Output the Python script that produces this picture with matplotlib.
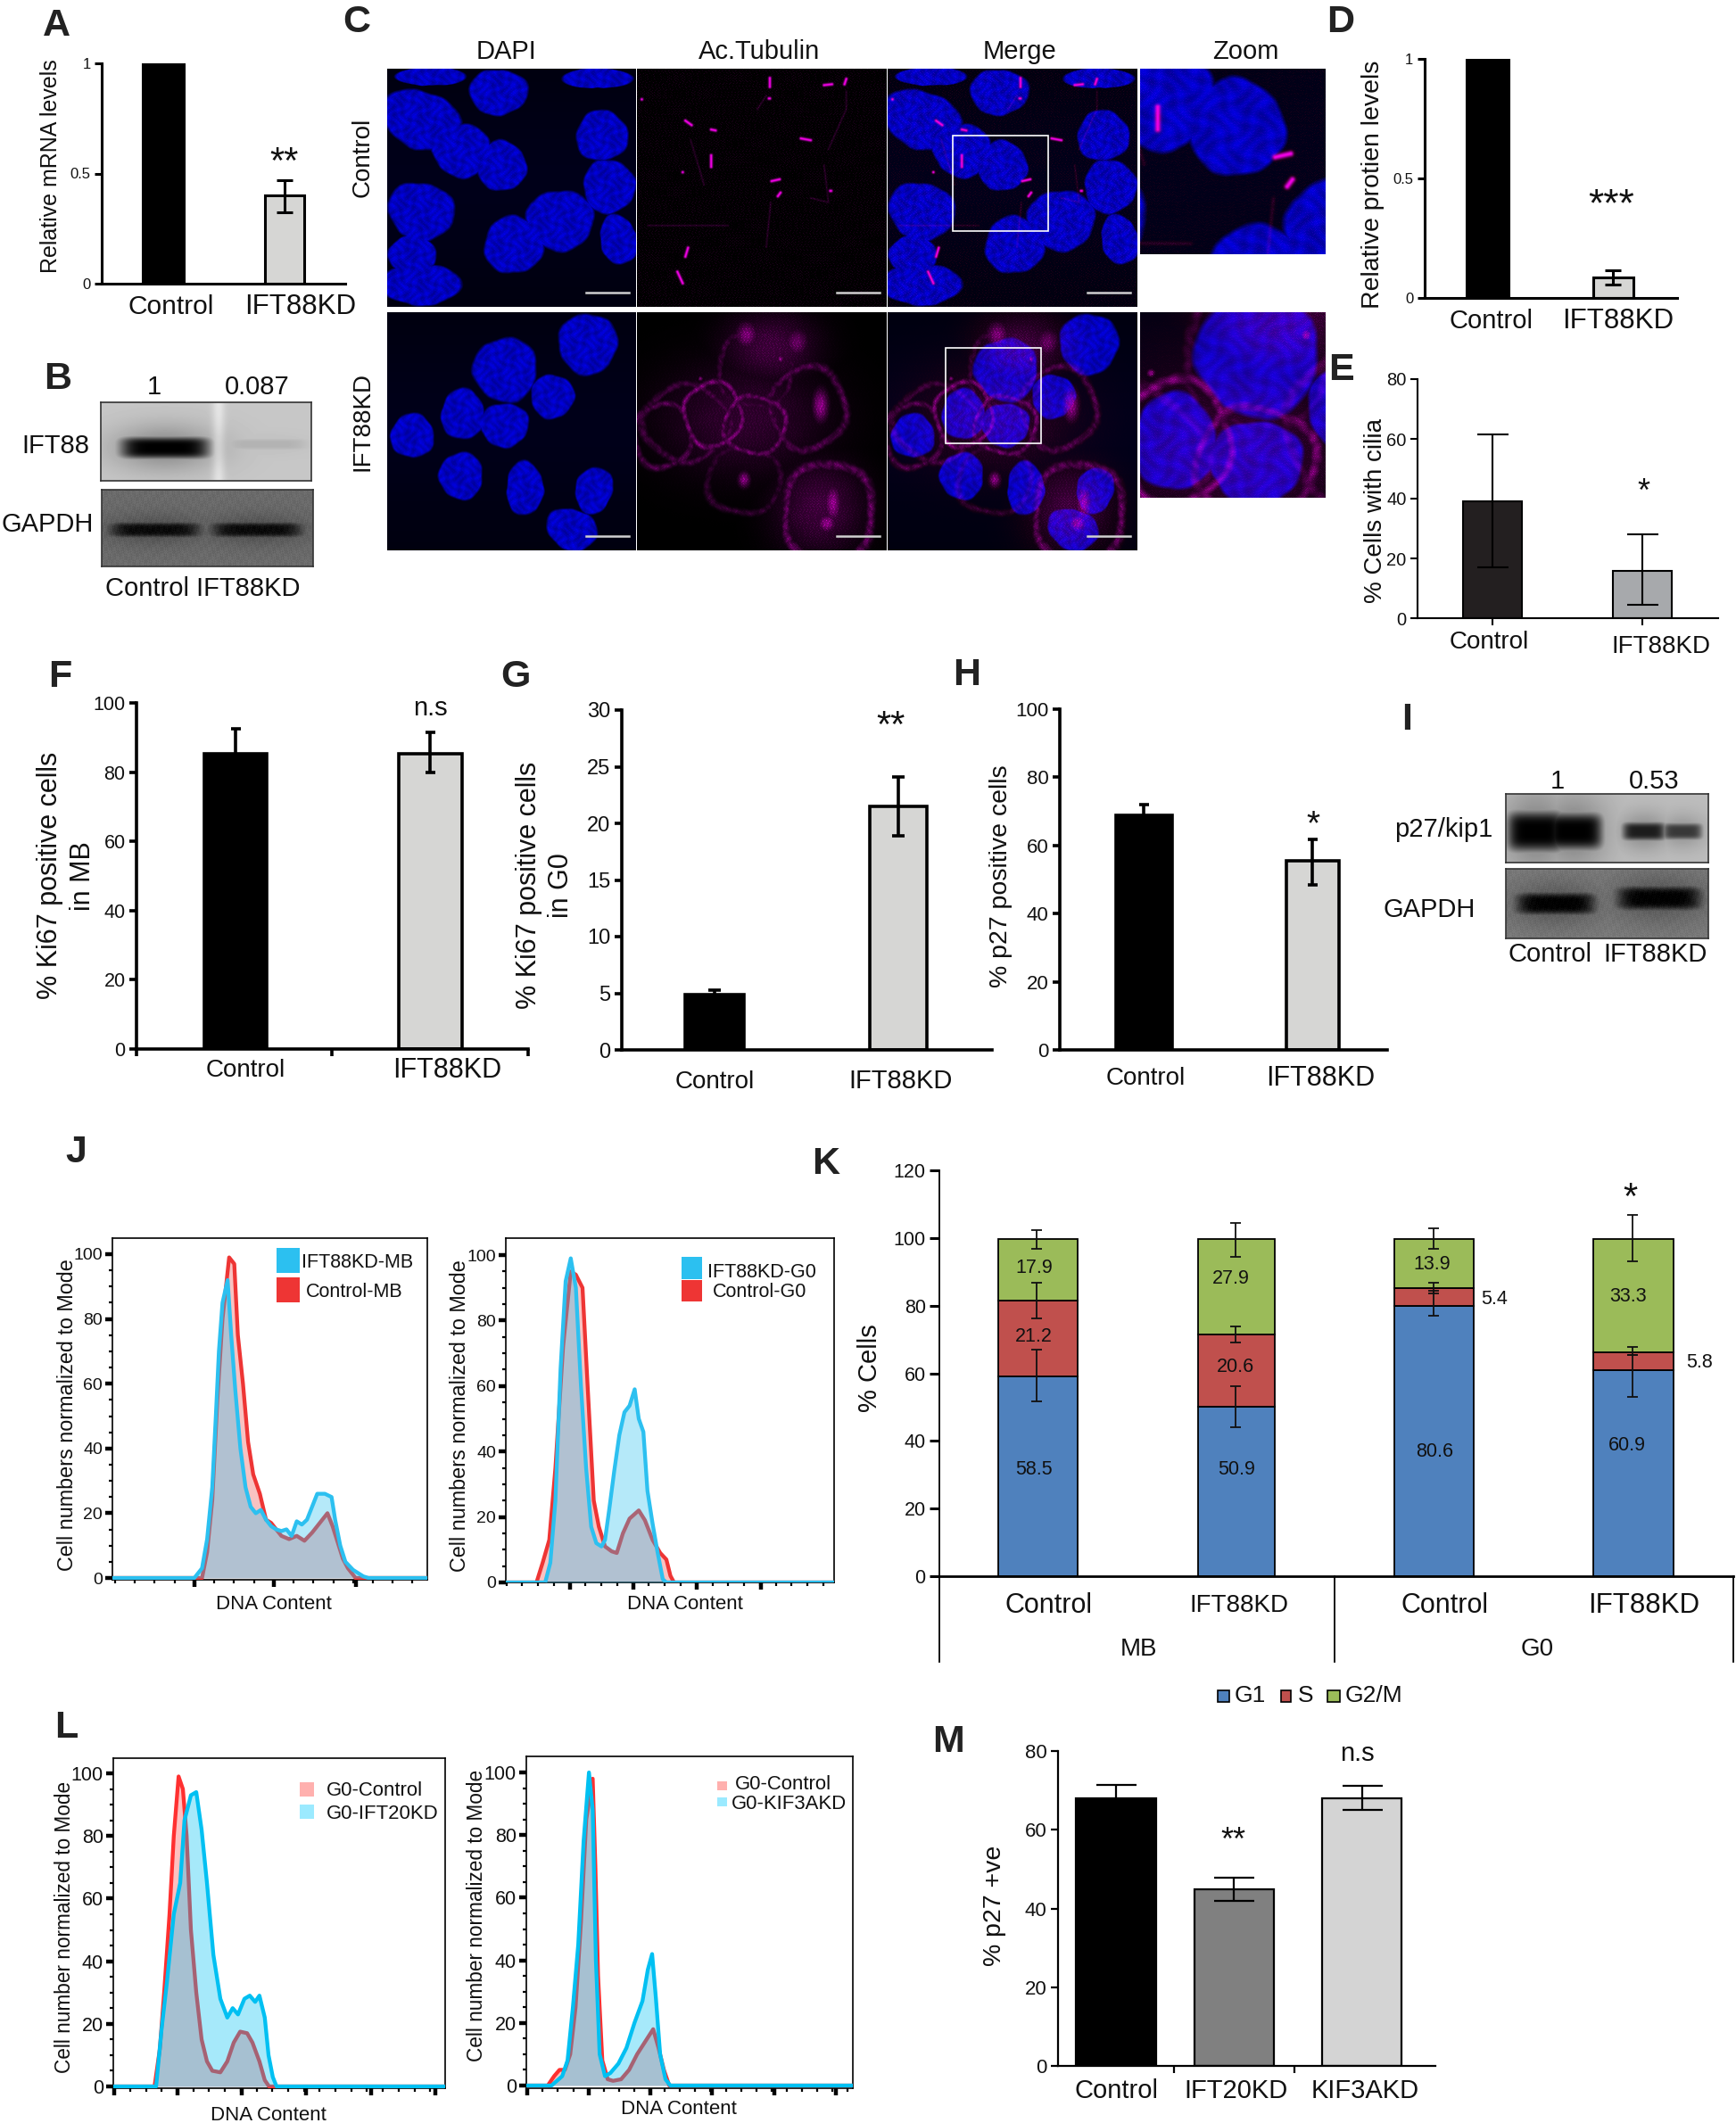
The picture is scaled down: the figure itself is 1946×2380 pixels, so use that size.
import numpy as np
import matplotlib
matplotlib.use("Agg")
import matplotlib.pyplot as plt
from matplotlib.patches import Rectangle

plt.rcParams['font.family'] = ['Liberation Sans', 'DejaVu Sans']

W, H = 1946, 2380
BLACK = '#000000'
LIGHT = '#d6d6d4'

# bar panels
a_vals, a_lo, a_hi = [1.0, 0.40], [1.0, 0.324], [1.0, 0.47]
d_vals, d_lo, d_hi = [1.0, 0.084], [1.0, 0.057], [1.0, 0.115]
e_vals, e_lo, e_hi = [39, 15.9], [17.1, 4.5], [61.4, 28]
f_vals, f_lo, f_hi = [85.4, 85.4], [80, 80], [92.5, 91.6]
g_vals, g_lo, g_hi = [4.9, 21.5], [4.5, 18.9], [5.3, 24.1]
h_vals, h_lo, h_hi = [68.8, 55.4], [65, 48.3], [72, 61.8]
m_vals, m_lo, m_hi = [68, 44.8, 68], [65, 42, 65], [71.3, 47.9, 71.2]
ko_labels = ['Control', 'IFT88KD']
m_labels = ['Control', 'IFT20KD', 'KIF3AKD']

# panel K, stacked
k_g1 = [59.1, 50, 80, 60.9]
k_s = [22.3, 21.4, 5.3, 5.2]
k_g2 = [18.4, 28.4, 14.5, 33.7]
k_g1_lo, k_g1_hi = [51.7, 44.1, 76.9, 53.1], [67, 56.3, 84.4, 65.3]
k_s_lo, k_s_hi = [76.1, 69.2, 83.6, 65.3], [86.9, 73.9, 86.9, 67.8]
k_g2_lo, k_g2_hi = [96.7, 94.4, 96.7, 93], [102.2, 104.4, 102.8, 106.9]
k_text = ['58.5', '21.2', '17.9', '50.9', '20.6', '27.9', '80.6', '13.9', '5.4', '60.9', '33.3', '5.8']
k_categories = ['Control', 'IFT88KD', 'Control', 'IFT88KD']
k_groups = ['MB', 'G0']

# flow histograms, x in arbitrary channel units
j1_blue_x = [310, 325, 335, 345, 352, 358, 365, 375, 382, 390, 400, 410, 420, 430, 440, 450, 460, 470, 480, 490, 500, 510, 520, 530, 540, 550, 565, 578, 585, 595, 605, 620, 640, 650]
j1_blue_y = [0, 3, 12, 28, 50, 70, 85, 92, 75, 58, 40, 28, 22, 20, 21, 18, 16, 15, 14.5, 15, 13, 17.5, 16.5, 18, 22, 26, 26, 25, 18, 10, 5, 2.5, 0.5, 0]
j1_red_x = [325, 335, 345, 355, 365, 378, 388, 395, 405, 415, 425, 438, 450, 460, 470, 480, 495, 510, 525, 540, 550, 570, 580, 590, 600, 610, 625]
j1_red_y = [0, 8, 24, 55, 80, 99, 97, 75, 60, 42, 32, 26, 18, 17, 15, 13, 12, 13, 11.5, 14, 16, 20, 16, 11, 6, 3, 0]
j2_blue_x = [995, 1005, 1015, 1025, 1035, 1045, 1055, 1065, 1075, 1085, 1095, 1105, 1112, 1120, 1130, 1140, 1150, 1160, 1170, 1178, 1187, 1195, 1205, 1215, 1225, 1232]
j2_blue_y = [0, 6, 25, 65, 92, 99, 90, 60, 35, 17, 12, 11, 13, 22, 34, 45, 52, 54, 59, 50, 46, 28, 18, 9, 1, 0]
j2_red_x = [978, 990, 1003, 1015, 1030, 1045, 1055, 1068, 1078, 1090, 1100, 1112, 1125, 1135, 1147, 1160, 1178, 1190, 1205, 1220, 1232, 1240, 1247]
j2_red_y = [0, 6, 13, 35, 72, 95, 94, 90, 60, 25, 17, 11, 9.5, 9, 15, 19.5, 22, 19, 13, 9, 7, 2, 0]
l1_red_x = [222, 232, 240, 250, 258, 267, 275, 282, 290, 300, 310, 320, 330, 345, 358, 370, 382, 395, 405, 418, 428, 436]
l1_red_y = [0, 12, 30, 55, 80, 99, 95, 80, 50, 30, 15, 8, 5, 4.5, 8, 14, 17.5, 17, 14, 8, 2, 0]
l1_blue_x = [225, 235, 245, 258, 270, 278, 290, 300, 310, 320, 332, 345, 358, 368, 378, 390, 400, 410, 418, 428, 435, 443, 450]
l1_blue_y = [0, 18, 33, 55, 65, 85, 93, 94, 82, 65, 42, 28, 22, 25, 23, 28, 29, 27, 29, 22, 10, 3, 0]
l2_red_x = [958, 970, 980, 990, 1000, 1010, 1020, 1030, 1042, 1047, 1052, 1060, 1070, 1080, 1095, 1110, 1125, 1140, 1155, 1165, 1175, 1185]
l2_red_y = [0, 3, 5, 5, 10, 25, 52, 85, 98, 70, 35, 8, 2, 1.5, 2, 5, 10, 14, 18, 12, 5, 0]
l2_blue_x = [965, 985, 995, 1005, 1015, 1025, 1035, 1042, 1048, 1055, 1065, 1075, 1090, 1105, 1120, 1135, 1145, 1153, 1160, 1168, 1178, 1187]
l2_blue_y = [0, 3, 8, 25, 45, 78, 100, 88, 40, 10, 3, 4, 7, 12, 20, 27, 37, 42, 28, 10, 2, 0]

# micrographs: nuclei (cx, cy, rx, ry, angle), inside a 280x267 field
ctrl_nuclei = [(125, 26, 35, 27, 0), (38, 57, 48, 34, 20), (83, 91, 35, 32, 20), (129, 109, 29, 30, -10),
               (242, 75, 31, 30, -10), (250, 132, 31, 32, 0), (261, 192, 22, 30, -15), (38, 160, 40, 34, 15),
               (28, 208, 29, 22, 0), (38, 243, 48, 24, 0), (195, 170, 40, 36, 0), (142, 198, 35, 34, 0),
               (236, 10, 42, 12, 0), (48, 8, 42, 11, 0)]
kd_nuclei = [(226, 36, 35, 36, 0), (133, 65, 38, 38, 0), (186, 95, 26, 26, -30), (85, 115, 26, 30, 0),
             (132, 127, 29, 26, 0), (28, 139, 26, 26, 0), (83, 184, 26, 28, 0), (155, 198, 22, 32, 0),
             (233, 200, 22, 28, 15), (208, 244, 31, 24, 20)]
ctrl_cilia = [(149, 10, 149, 20), (210, 18, 219, 17), (235, 11, 233, 17), (148, 33, 149, 33), (54, 58, 61, 63),
              (83, 68, 88, 69), (184, 78, 195, 80), (83, 97, 83, 110), (151, 126, 160, 124), (158, 143, 161, 139),
              (217, 137, 218, 137), (57, 201, 54, 211), (45, 228, 51, 241), (51, 116, 51, 116), (5, 34, 5, 34)]
ctrl_fibres = [(12, 176, 102, 176), (210, 108, 215, 150), (215, 150, 195, 145), (145, 30, 135, 45),
               (235, 25, 235, 45), (235, 45, 215, 90), (60, 80, 75, 130), (150, 150, 145, 200)]
kd_rings = [(85, 115, 32, 36, 0.8), (132, 127, 35, 32, 0.8), (28, 139, 32, 36, 0.6), (133, 65, 42, 42, 0.4),
            (192, 108, 42, 46, 0.55), (215, 225, 50, 56, 0.65), (120, 190, 42, 36, 0.35), (55, 125, 48, 42, 0.45)]
kd_blobs = [(150, 40, 50, 38, 0.42), (120, 120, 90, 60, 0.32), (205, 220, 48, 50, 0.42), (123, 26, 11, 13, 0.85),
            (179, 34, 12, 14, 0.7), (206, 105, 8, 16, 1.0), (220, 215, 8, 18, 1.0), (213, 237, 9, 9, 1.0),
            (120, 188, 6, 8, 0.9), (161, 53, 3, 3, 1.0), (71, 75, 2, 2, 1.0)]

# western blots, bands (cx, cy, half width, half height, strength)
b_top_bands = [(72, 51, 50, 12, 1.0), (185, 47, 45, 6, 0.1)]
b_low_bands = [(60, 45, 50, 8, 0.9), (174, 45, 50, 8, 0.9)]
i_top_bands = [(34, 42, 32, 22, 1.0), (76, 42, 32, 20, 1.0), (155, 42, 24, 10, 0.85), (198, 42, 22, 9, 0.7)]
i_low_bands = [(56, 39, 44, 12, 1.0), (172, 33, 47, 13, 1.0)]

fig = plt.figure(figsize=(W / 100, H / 100), dpi=100, facecolor='white')


def label(x, y, s, size, rot=0, ha='center', weight='normal', color='#111111'):
    off = 0.36 * size / 0.72
    tx, ty = (x + off, y) if rot == 90 else (x, y + off)
    fig.text(tx / W, 1 - ty / H, s, fontsize=size, rotation=rot, ha=ha, va='baseline',
             rotation_mode='anchor', fontweight=weight, color=color)


def star(x, y, n, size):
    label(x, y + (0.58 - 0.36) * size / 0.72, '*' * n, size)


def letter(x, y, s):
    label(x, y, s, 31, weight='bold', color='#222222')


def box_axes(left, right, top, bot):
    return fig.add_axes([left / W, 1 - bot / H, (right - left) / W, (bot - top) / H])


def swatch(x0, y0, x1, y1, color, ec='none'):
    fig.add_artist(Rectangle((x0 / W, 1 - y1 / H), (x1 - x0) / W, (y1 - y0) / H, facecolor=color, edgecolor=ec,
                             linewidth=1.2, transform=fig.transFigure))


def bar_panel(box, ymax, centers, widths, vals, lo, hi, colors, ticks, ticklabels, tick_fs, lw=2.2,
              cap=20, edge='k', bottom_ticks=()):
    left, right, top, bot = box
    ax = box_axes(left, right, top, bot)
    ax.set_xlim(left, right)
    ax.set_ylim(0, ymax)
    ax.patch.set_alpha(0)
    for c, w, v, col, l, h in zip(centers, widths, vals, colors, lo, hi):
        ec = 'k' if col != BLACK else BLACK
        ax.bar(c, v, width=w, color=col, edgecolor=ec, linewidth=lw, zorder=2)
        if l < v or h > v:
            ax.errorbar(c, v, yerr=[[v - l], [h - v]], color='k', elinewidth=lw, capsize=cap * 0.36,
                        capthick=lw, zorder=3)
    for s in ['top', 'right']:
        ax.spines[s].set_visible(False)
    for s in ['left', 'bottom']:
        ax.spines[s].set_linewidth(lw)
    ax.set_yticks(ticks)
    ax.set_yticklabels(ticklabels, fontsize=tick_fs, color='#111111')
    ax.tick_params(axis='y', length=6, width=lw, pad=3)
    ax.set_xticks(list(bottom_ticks))
    ax.set_xticklabels([])
    ax.tick_params(axis='x', length=6, width=lw)
    return ax


def blot(box, bg, bands, texture=0.0, strip=None):
    left, right, top, bot = box
    xs, ys = np.meshgrid(np.arange(right - left) + 0.5, np.arange(bot - top) + 0.5)
    dark = np.zeros_like(xs, dtype=float)
    for cx, cy, wx, wy, s in bands:
        core = np.exp(-((xs - cx) / wx) ** 6 - ((ys - cy) / wy) ** 4)
        halo = np.exp(-((xs - cx) / (wx * 1.2)) ** 2 - ((ys - cy) / (wy * 2.2)) ** 2)
        dark = np.maximum(dark, s * np.maximum(core, 0.3 * halo))
    img = bg * (1 - dark)
    if texture:
        img = img + texture * np.sin(xs * 1.7 + 2 * np.sin(ys * 0.9)) * np.sin(ys * 1.3 + 2 * np.sin(xs * 0.7))
    if strip is not None:
        img = img + 0.12 * np.exp(-((xs - strip) / 7) ** 2)
    ax = box_axes(left, right, top, bot)
    ax.imshow(np.clip(img, 0, 1), cmap='gray', vmin=0, vmax=1, aspect='auto', interpolation='bilinear')
    ax.set_xticks([])
    ax.set_yticks([])
    for s in ax.spines.values():
        s.set_linewidth(1.2)
        s.set_color('#333333')


def mottle(xs, ys):
    return 0.5 + 0.5 * np.sin(xs * 0.42 + 1.6 * np.sin(ys * 0.27)) * np.sin(ys * 0.37 + 1.4 * np.sin(xs * 0.23))


def speckle(xs, ys):
    return (np.sin(xs * 2.3 + 3 * np.sin(ys * 1.1)) * np.sin(ys * 2.1 + 3 * np.sin(xs * 0.9))) ** 4


def segment_glow(xs, ys, seg, sigma):
    x0, y0, x1, y1 = seg
    dx, dy = x1 - x0, y1 - y0
    t = np.clip(((xs - x0) * dx + (ys - y0) * dy) / max(dx * dx + dy * dy, 1e-6), 0, 1)
    d2 = (xs - x0 - t * dx) ** 2 + (ys - y0 - t * dy) ** 2
    return np.exp(-d2 / (2 * sigma ** 2))


def cell_image(nuclei, cilia, fibres, rings, blobs, xr, yr, nx, ny, blue_on=True, mag_on=True, haze=0.0):
    xs, ys = np.meshgrid(np.linspace(xr[0], xr[1], nx), np.linspace(yr[0], yr[1], ny))
    tex = mottle(xs, ys)
    spk = speckle(xs, ys)
    blue = 0.05 + 0.05 * np.exp(-((ys - 130) / 110) ** 2)
    blue = np.full(xs.shape, 1.0) * blue
    for cx, cy, rx, ry, ang in nuclei:
        th = np.radians(ang)
        u = (xs - cx) * np.cos(th) + (ys - cy) * np.sin(th)
        v = -(xs - cx) * np.sin(th) + (ys - cy) * np.cos(th)
        d = np.sqrt((u / rx) ** 2 + (v / ry) ** 2)
        phi = np.arctan2(v, u)
        d = d * (1 + 0.04 * np.sin(3 * phi + cx) + 0.02 * np.sin(7 * phi + cy))
        mask = np.clip((1.0 - d) / 0.1, 0, 1)
        blue = np.maximum(blue, mask * (0.6 + 0.26 * tex + 0.1 * spk))
    mag = haze * spk
    for seg in cilia:
        mag = np.maximum(mag, 0.95 * segment_glow(xs, ys, seg, 1.2))
    for seg in fibres:
        mag = np.maximum(mag, 0.3 * segment_glow(xs, ys, seg, 0.9) * (0.4 + 0.6 * spk))
    for cx, cy, rx, ry, s in rings:
        phi = np.arctan2(ys - cy, xs - cx)
        d = np.sqrt(((xs - cx) / rx) ** 2 + ((ys - cy) / ry) ** 2) * (1 + 0.05 * np.sin(4 * phi + cx))
        mag = np.maximum(mag, s * np.exp(-((d - 1) / 0.1) ** 2) * (0.45 + 0.55 * tex) * (0.6 + 0.4 * spk))
    for cx, cy, rx, ry, s in blobs:
        mag = np.maximum(mag, s * np.exp(-((xs - cx) / rx) ** 2 - ((ys - cy) / ry) ** 2) * (0.5 + 0.5 * spk))
    r = mag if mag_on else np.zeros_like(mag)
    b = np.zeros_like(mag)
    if blue_on:
        b = np.maximum(b, blue)
    if mag_on:
        b = np.maximum(b, mag * 0.95)
    return np.clip(np.dstack([r, np.zeros_like(r), b]), 0, 1)


def micro_panel(box, img, bar_y=None):
    left, right, top, bot = box
    ax = box_axes(left, right, top, bot)
    ax.imshow(img, aspect='auto', extent=(left, right, bot, top), interpolation='bilinear')
    ax.set_xticks([])
    ax.set_yticks([])
    for s in ax.spines.values():
        s.set_visible(False)
    if bar_y is not None:
        ax.plot([right - 56, right - 2 - 6], [bar_y, bar_y], color='#d0d0d0', lw=1.8)
        ax.set_xlim(left, right)
        ax.set_ylim(bot, top)
    return ax


def hist_panel(box, xlim, y0, y100, major, red, blue, red_c, blue_c, tick_fs=15, minor_div=4):
    left, right, top, bot = box
    ax = box_axes(left, right, top, bot)
    unit = (y0 - y100) / 100
    ax.set_xlim(*xlim)
    ax.set_ylim(-(bot - y0) / unit, (y0 - top) / unit)
    for (xv, yv), col, alpha in [(red, red_c, 0.30), (blue, blue_c, 0.35)]:
        xa = np.r_[xlim[0], xv, xlim[1]]
        ya = np.r_[0, yv, 0]
        ax.fill_between(xa, 0, ya, color=col, alpha=alpha, lw=0, zorder=2 if col == red_c else 4)
        ax.plot(xa, ya, color=col, lw=3.1, solid_joinstyle='round', zorder=3 if col == red_c else 5)
    step = major[1] - major[0]
    minors = [m for m in np.arange(major[0] - 4 * step, major[-1] + 4 * step, step / minor_div)
              if xlim[0] <= m <= xlim[1]]
    ax.set_xticks(major)
    ax.set_xticks(minors, minor=True)
    ax.set_xticklabels([])
    ax.set_yticks(range(0, 101, 20))
    ax.set_yticks(range(0, 101, 5), minor=True)
    ax.tick_params(axis='both', which='major', length=6, width=3.2, pad=2, labelsize=tick_fs, labelcolor='#111111')
    ax.tick_params(axis='both', which='minor', length=3, width=1.6)
    for s in ax.spines.values():
        s.set_linewidth(1.2)
    return ax


# A
bar_panel((114, 387, 71, 318), 1, [183, 319], [46, 44], a_vals, a_lo, a_hi, [BLACK, LIGHT],
          [0, 0.5, 1], ['0', '0.5', '1'], 12, lw=2.2, cap=18)
label(192, 341, ko_labels[0], 21.5)
label(337, 341, ko_labels[1], 22.5)
label(55, 186, 'Relative mRNA levels', 18, rot=90)
star(318, 170, 2, 30)
letter(63, 25, 'A')

# B
letter(65, 420, 'B')
blot((113, 349, 451, 539), 0.78, b_top_bands, strip=132)
blot((114, 351, 549, 635), 0.42, b_low_bands, texture=0.035)
label(173, 432, '1', 21)
label(288, 432, '0.087', 21)
label(62, 497, 'IFT88', 21)
label(53, 585, 'GAPDH', 21)
label(227, 657, 'Control IFT88KD', 21)

# C
letter(400, 20, 'C')
for x, s in zip([567, 851, 1143, 1396], ['DAPI', 'Ac.Tubulin', 'Merge', 'Zoom']):
    label(x, 55, s, 21)
label(404, 176, 'Control', 20, rot=90)
label(404, 473, 'IFT88KD', 20, rot=90)
cols = [(434, 713, True, False), (714, 994, False, True), (995, 1275, True, True)]
rows = [(77, 344, ctrl_nuclei, ctrl_cilia, ctrl_fibres, [], [], 328, 0.12),
        (350, 617, kd_nuclei, [], [], kd_rings, kd_blobs, 601, 0.0)]
for top, bot, nuc, cil, fib, rng, blb, bar_y, hz in rows:
    for left, right, b_on, m_on in cols:
        img = cell_image(nuc, cil, fib, rng, blb, (0, 280), (0, 267), right - left, bot - top, b_on, m_on, hz)
        micro_panel((left, right, top, bot), img, bar_y)
zoom_ctrl = cell_image(ctrl_nuclei, ctrl_cilia, ctrl_fibres, [], [], (73, 180), (75, 182), 207, 208, haze=0.12)
micro_panel((1278, 1485, 77, 285), zoom_ctrl)
zoom_kd = cell_image(kd_nuclei, [], [], kd_rings, kd_blobs, (65, 172), (40, 147), 207, 208)
micro_panel((1278, 1485, 350, 558), zoom_kd)
swatch(1068, 152, 1175, 259, 'none', ec='white')
swatch(1060, 390, 1167, 497, 'none', ec='white')

# D
letter(1503, 20, 'D')
bar_panel((1597, 1880, 66, 334), 1, [1667, 1808], [47, 45], d_vals, d_lo, d_hi, [BLACK, LIGHT],
          [0, 0.5, 1], ['0', '0.5', '1'], 12, lw=2.2, cap=18)
label(1671, 357, ko_labels[0], 21)
label(1814, 357, ko_labels[1], 22.5)
label(1536, 207, 'Relative protien levels', 20.5, rot=90)
star(1806, 217, 3, 32)

# E
letter(1503, 411, 'E')
bar_panel((1589, 1926, 425, 693), 80, [1673, 1841], [66, 66], e_vals, e_lo, e_hi, ['#231f20', '#a7a9ac'],
          [0, 20, 40, 60, 80], ['0', '20', '40', '60', '80'], 14.5, lw=1.5, cap=35, bottom_ticks=(1673, 1841))
label(1669, 717, ko_labels[0], 20)
label(1862, 722, ko_labels[1], 20)
label(1539, 573, '% Cells with cilia', 20, rot=90)
star(1842, 541, 1, 26)

# F
letter(67, 755, 'F')
bar_panel((153, 592, 788, 1176), 100, [264, 482], [70, 71], f_vals, f_lo, f_hi, [BLACK, LIGHT],
          range(0, 101, 20), [str(v) for v in range(0, 101, 20)], 15.5, lw=2.6, cap=11, bottom_ticks=(153, 372, 592))
label(275, 1197, ko_labels[0], 20)
label(501, 1197, ko_labels[1], 22)
label(482, 792, 'n.s', 21)
label(53, 981, '% Ki67 positive cells', 22, rot=90)
label(90, 982, 'in MB', 22, rot=90)

# G
letter(578, 755, 'G')
bar_panel((697, 1112, 796, 1177), 30, [801, 1007], [66, 64], g_vals, g_lo, g_hi, [BLACK, LIGHT],
          range(0, 31, 5), [str(v) for v in range(0, 31, 5)], 17, lw=2.6, cap=14)
label(801, 1210, ko_labels[0], 20)
label(1010, 1210, ko_labels[1], 21)
star(998, 802, 2, 30)
label(590, 992, '% Ki67 positive cells', 22, rot=90)
label(626, 993, 'in G0', 22, rot=90)

# H
letter(1084, 753, 'H')
bar_panel((1188, 1555, 795, 1177), 100, [1282, 1471], [63, 59], h_vals, h_lo, h_hi, [BLACK, LIGHT],
          range(0, 101, 20), [str(v) for v in range(0, 101, 20)], 16, lw=2.6, cap=11)
label(1284, 1206, ko_labels[0], 20)
label(1480, 1206, ko_labels[1], 22)
star(1472, 913, 1, 28)
label(1119, 982, '% p27 positive cells', 20.5, rot=90)

# I
letter(1577, 802, 'I')
blot((1688, 1915, 890, 967), 0.74, i_top_bands)
blot((1688, 1915, 974, 1052), 0.48, i_low_bands, texture=0.03)
label(1746, 873, '1', 21)
label(1854, 873, '0.53', 21)
label(1618, 928, 'p27/kip1', 21)
label(1602, 1018, 'GAPDH', 21)
label(1737, 1068, ko_labels[0], 21)
label(1856, 1068, ko_labels[1], 21)

# J
letter(85, 1287, 'J')
JRED, JBLUE = '#ee3534', '#2cc0f0'
hist_panel((126, 479, 1388, 1771), (150, 765), 1769, 1406, [310, 465, 625],
           (j1_red_x, j1_red_y), (j1_blue_x, j1_blue_y), JRED, JBLUE, tick_fs=14)
hist_panel((567, 935, 1388, 1774), (918, 1560), 1774, 1407, [1043, 1167, 1292, 1417],
           (j2_red_x, j2_red_y), (j2_blue_x, j2_blue_y), JRED, JBLUE, tick_fs=14)
swatch(310, 1399, 336, 1427, JBLUE)
swatch(310, 1432, 336, 1460, JRED)
label(338, 1413, 'IFT88KD-MB', 15.5, ha='left')
label(343, 1446, 'Control-MB', 15.5, ha='left')
swatch(764, 1409, 787, 1434, JBLUE)
swatch(764, 1435, 787, 1459, JRED)
label(793, 1424, 'IFT88KD-G0', 15.5, ha='left')
label(799, 1446, 'Control-G0', 15.5, ha='left')
label(74, 1586, 'Cell numbers normalized to Mode', 16.8, rot=90)
label(514, 1587, 'Cell numbers normalized to Mode', 16.8, rot=90)
label(307, 1796, 'DNA Content', 16)
label(768, 1796, 'DNA Content', 16)

# K
letter(926, 1300, 'K')
k_pos = [1163, 1386, 1608, 1831]
k_w = [89, 86, 89, 90]
k_ax = box_axes(1053, 1943, 1312, 1767)
k_ax.set_xlim(1053, 1943)
k_ax.set_ylim(0, 120)
g1 = np.array(k_g1)
s1 = np.array(k_s)
g2 = np.array(k_g2)
k_ax.bar(k_pos, g1, width=k_w, color='#4f81bd', edgecolor='k', linewidth=1.3, zorder=2)
k_ax.bar(k_pos, s1, width=k_w, bottom=g1, color='#c0504d', edgecolor='k', linewidth=1.3, zorder=2)
k_ax.bar(k_pos, g2, width=k_w, bottom=g1 + s1, color='#9bbb59', edgecolor='k', linewidth=1.3, zorder=2)
for tops, lo, hi in [(g1, k_g1_lo, k_g1_hi), (g1 + s1, k_s_lo, k_s_hi), (g1 + s1 + g2, k_g2_lo, k_g2_hi)]:
    for x, t, l, h in zip(k_pos, tops, lo, hi):
        k_ax.errorbar(x - 1, t, yerr=[[max(t - l, 0)], [max(h - t, 0)]], color='#111111', elinewidth=1.3,
                      capsize=4, capthick=1.3, zorder=3)
for s in ['top', 'right']:
    k_ax.spines[s].set_visible(False)
k_ax.spines['left'].set_linewidth(1.3)
k_ax.spines['bottom'].set_linewidth(2)
k_ax.set_yticks(range(0, 121, 20))
k_ax.set_yticklabels([str(v) for v in range(0, 121, 20)], fontsize=15.5, color='#111111')
k_ax.tick_params(axis='y', length=8, width=2.2, pad=3)
k_ax.set_xticks([])
for x in [1053, 1496, 1943]:
    fig.add_artist(plt.Line2D([x / W, x / W], [1 - 1767 / H, 1 - 1863 / H], color='k', lw=1.3))
for x, s, fs in zip([1175, 1389, 1619, 1843], k_categories, [22, 20, 22, 22.5]):
    label(x, 1797, s, fs)
label(1277, 1846, k_groups[0], 20)
label(1723, 1846, k_groups[1], 20)
k_text_xy = [(1159, 1645), (1159, 1496), (1159, 1419), (1386, 1645), (1385, 1530), (1380, 1431),
             (1608, 1625), (1605, 1415), (1675, 1454), (1824, 1618), (1825, 1451), (1905, 1525)]
for (x, y), s in zip(k_text_xy, k_text):
    label(x, y, s, 15.5)
star(1827, 1331, 1, 30)
label(972, 1534, '% Cells', 21, rot=90)
swatch(1365, 1895, 1378, 1908, '#4f81bd', ec='k')
label(1384, 1899, 'G1', 19, ha='left')
swatch(1436, 1895, 1447, 1908, '#c0504d', ec='k')
label(1455, 1899, 'S', 19, ha='left')
swatch(1488, 1895, 1502, 1908, '#9bbb59', ec='k')
label(1508, 1899, 'G2/M', 19, ha='left')

# L
letter(74, 1933, 'L')
LRED, LBLUE = '#ff3030', '#00c0f2'
hist_panel((127, 499, 1971, 2341), (145, 765), 2339, 1988, [147, 265, 385, 505, 627, 747],
           (l1_red_x, l1_red_y), (l1_blue_x, l1_blue_y), LRED, LBLUE, tick_fs=15.5)
hist_panel((590, 956, 1969, 2341), (918, 1528), 2338, 1987, [920, 1034, 1150, 1264, 1382, 1497],
           (l2_red_x, l2_red_y), (l2_blue_x, l2_blue_y), LRED, LBLUE, tick_fs=15.5)
swatch(336, 1998, 352, 2014, '#ffb0ae')
swatch(336, 2023, 352, 2039, '#9beaff')
label(366, 2005, 'G0-Control', 15.9, ha='left')
label(366, 2031, 'G0-IFT20KD', 15.9, ha='left')
swatch(804, 1997, 815, 2007, '#ffb0ae')
swatch(804, 2015, 815, 2025, '#9beaff')
label(824, 1998, 'G0-Control', 15.9, ha='left')
label(820, 2020, 'G0-KIF3AKD', 15.9, ha='left')
label(71, 2160, 'Cell number normalized to Mode', 16.3, rot=90)
label(533, 2147, 'Cell number normalized to Mode', 16.3, rot=90)
label(301, 2369, 'DNA Content', 16)
label(761, 2362, 'DNA Content', 16)

# M
letter(1063, 1949, 'M')
bar_panel((1186, 1609, 1963, 2316), 80, [1251, 1383, 1527], [90, 89, 89], m_vals, m_lo, m_hi, [BLACK, '#808080', '#d4d4d4'],
          range(0, 81, 20), [str(v) for v in range(0, 81, 20)], 16, lw=1.6, cap=45, bottom_ticks=(1316, 1451))
for x, s in zip([1251, 1385, 1530], m_labels):
    label(x, 2341, s, 21)
label(1521, 1963, 'n.s', 21)
star(1382, 2053, 2, 26)
label(1112, 2136, '% p27 +ve', 20.5, rot=90)

fig.savefig('out.png', dpi=100, facecolor='white')
